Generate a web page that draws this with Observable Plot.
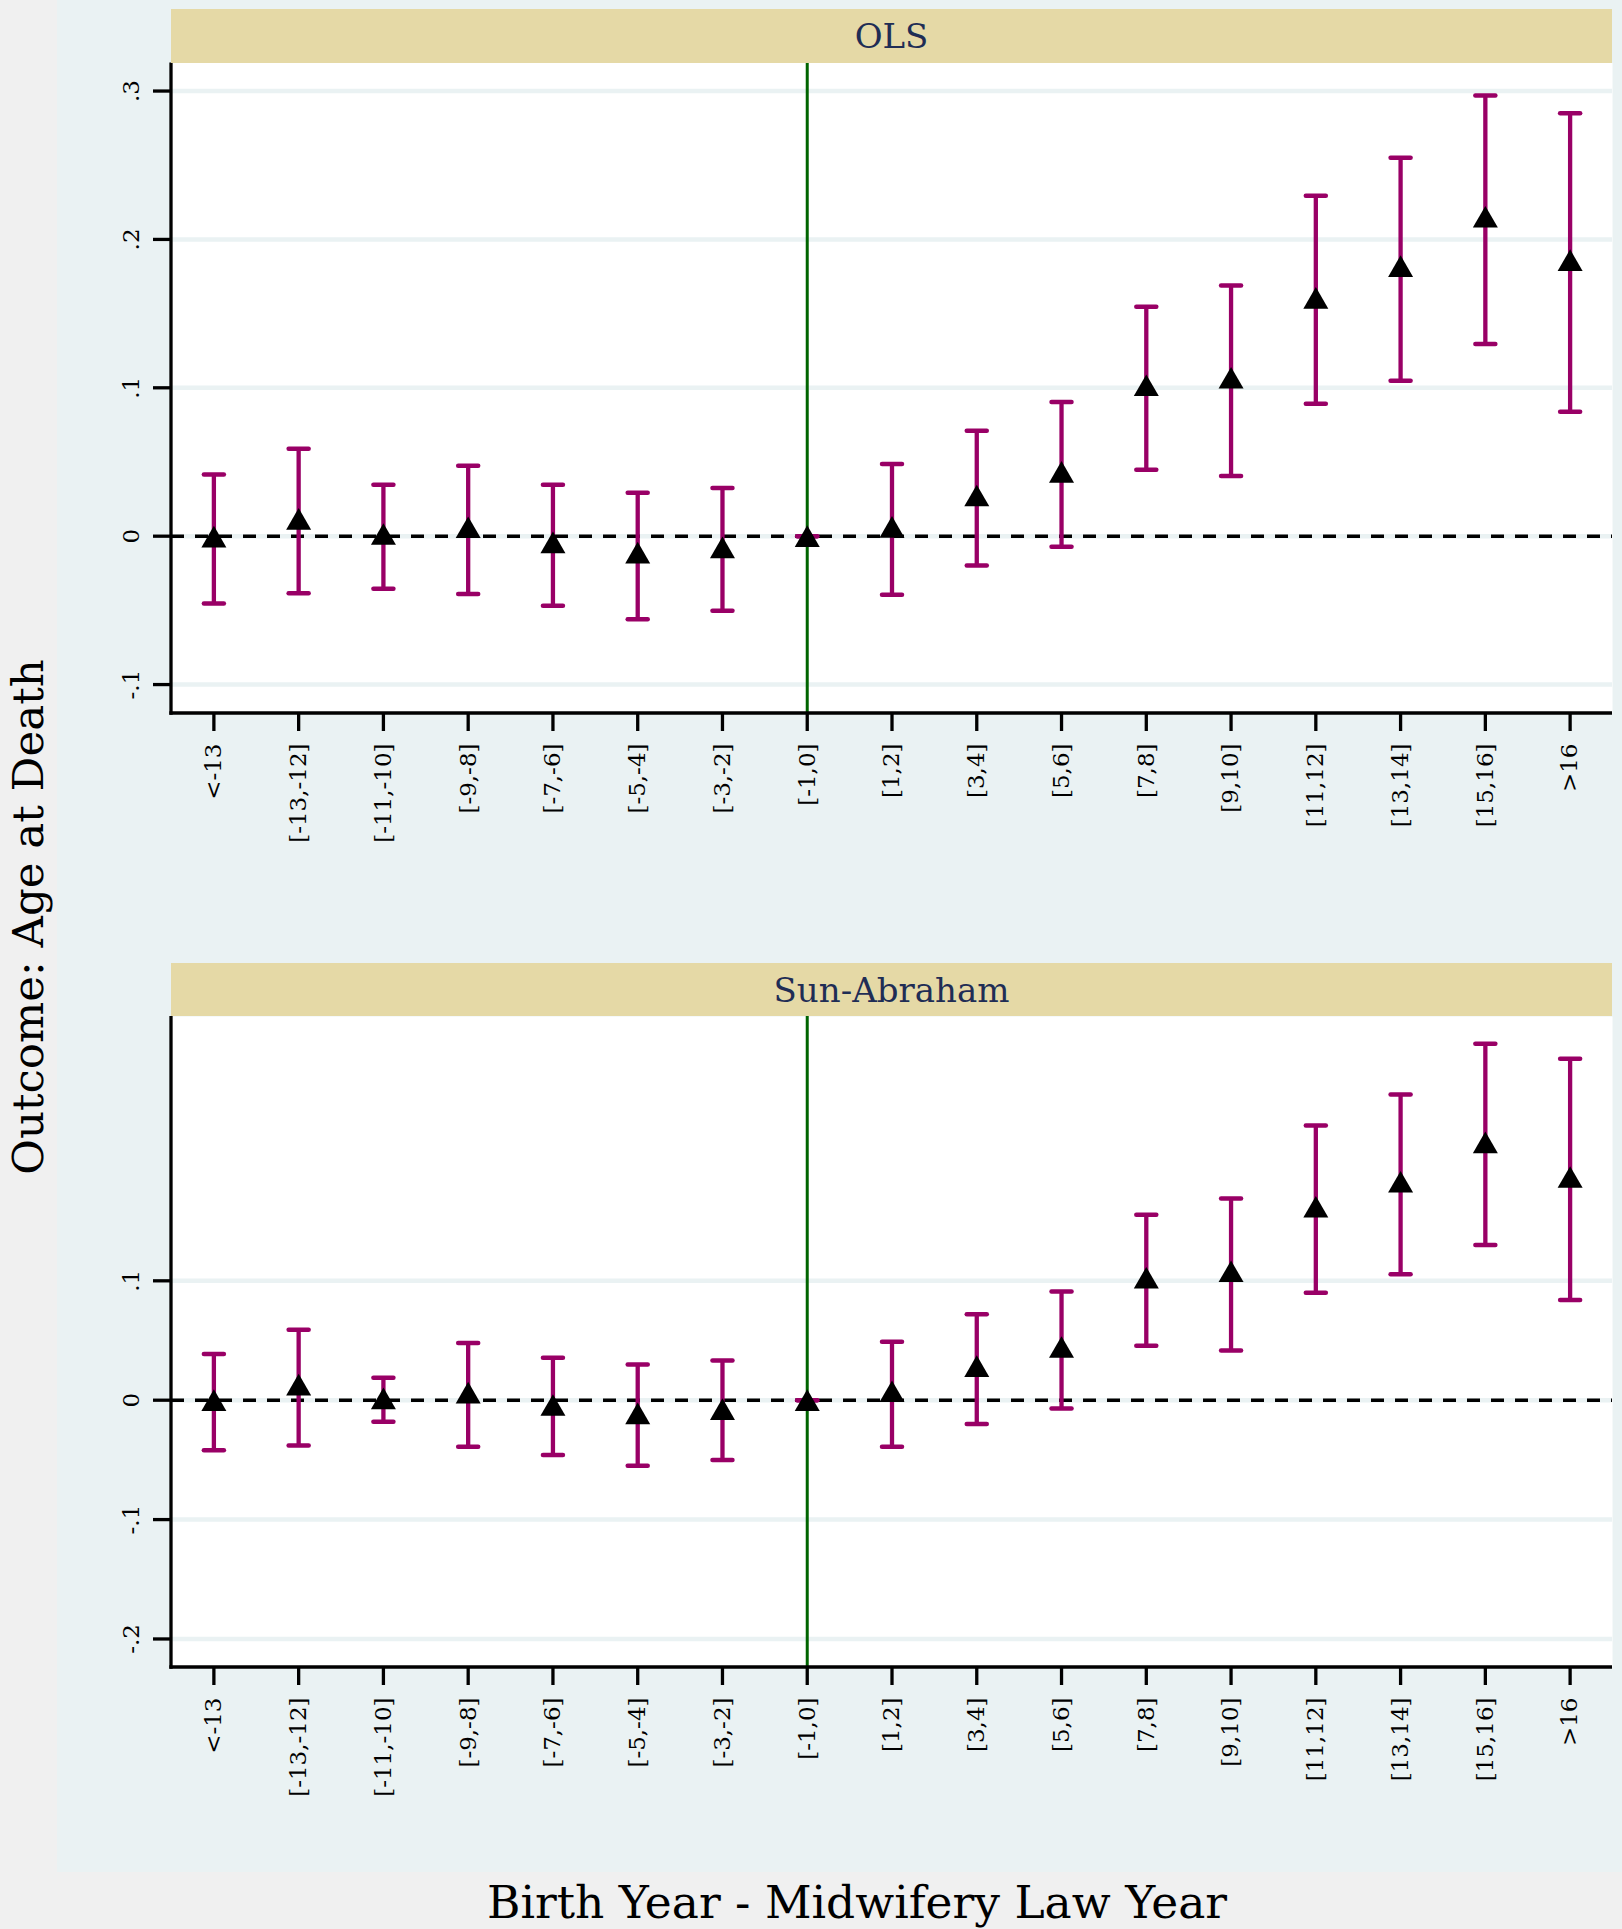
<!DOCTYPE html>
<html>
<head>
<meta charset="utf-8">
<script src="https://cdn.jsdelivr.net/npm/d3@7"></script>
<script src="https://cdn.jsdelivr.net/npm/@observablehq/plot@0.6"></script>
<style>
  html, body { margin: 0; padding: 0; background: #f0f0f0; }
  #page { position: relative; width: 1622px; height: 1929px; overflow: hidden; background: #f0f0f0; font-family: "DejaVu Serif", serif; }
  #inner { position: absolute; left: 57px; top: 0; width: 1565px; height: 1872px; background: #eaf2f3; }
  .panel { position: absolute; left: 0; }
  .panel svg { overflow: visible; }
  .strip { position: absolute; background: #e5d9a6; color: #1f2d55; display: flex; align-items: center; justify-content: center; font-size: 34px; font-family: "DejaVu Serif", serif; }
  #titles { position: absolute; left: 0; top: 0; pointer-events: none; }
</style>
</head>
<body>
<div id="page">
  <div id="inner"></div>
  <div id="p1" class="panel"></div>
  <div id="p2" class="panel"></div>
  <div id="s1" class="strip">OLS</div>
  <div id="s2" class="strip">Sun-Abraham</div>
  <svg id="titles" width="1622" height="1929" font-family="DejaVu Serif, serif">
    <text id="ytitle" transform="translate(43,917) rotate(-90)" text-anchor="middle" font-size="43.5" fill="black">Outcome: Age at Death</text>
    <text id="xtitle" x="857" y="1918" text-anchor="middle" font-size="45.5" fill="black">Birth Year - Midwifery Law Year</text>
  </svg>
</div>
<script>
// ---------------- data ----------------
const categories = ["<-13","[-13,-12]","[-11,-10]","[-9,-8]","[-7,-6]","[-5,-4]","[-3,-2]","[-1,0]","[1,2]","[3,4]","[5,6]","[7,8]","[9,10]","[11,12]","[13,14]","[15,16]",">16"];
const refCategory = "[-1,0]";

const olsEst = [-0.0003, 0.0117, 0.0015, 0.0060, -0.0042, -0.0111, -0.0075, 0, 0.0063, 0.0274, 0.0433, 0.1017, 0.1068, 0.1606, 0.1820, 0.2153, 0.1860];
const olsLo  = [-0.0454, -0.0385, -0.0355, -0.0390, -0.0469, -0.0559, -0.0502, 0, -0.0394, -0.0198, -0.0072, 0.0448, 0.0406, 0.0893, 0.1047, 0.1296, 0.0839];
const olsHi  = [0.0415, 0.0590, 0.0346, 0.0475, 0.0346, 0.0292, 0.0325, 0, 0.0487, 0.0710, 0.0905, 0.1546, 0.1690, 0.2295, 0.2550, 0.2970, 0.2851];

const saEst = [0.0000, 0.0131, 0.0015, 0.0064, -0.0040, -0.0110, -0.0075, 0, 0.0075, 0.0285, 0.0446, 0.1026, 0.1080, 0.1620, 0.1830, 0.2160, 0.1870];
const saLo  = [-0.0420, -0.0380, -0.0180, -0.0390, -0.0460, -0.0550, -0.0500, 0, -0.0390, -0.0200, -0.0070, 0.0457, 0.0416, 0.0900, 0.1056, 0.1300, 0.0840];
const saHi  = [0.0386, 0.0590, 0.0187, 0.0480, 0.0356, 0.0300, 0.0333, 0, 0.0490, 0.0720, 0.0910, 0.1554, 0.1690, 0.2300, 0.2560, 0.2985, 0.2860];

const olsTicks = [-0.1, 0, 0.1, 0.2, 0.3];
const olsTickLabels = ["-.1", "0", ".1", ".2", ".3"];
const saTicks = [-0.2, -0.1, 0, 0.1];
const saTickLabels = ["-.2", "-.1", "0", ".1"];

const olsDomain = [-0.1195, 0.3189];
const saDomain = [-0.2239, 0.3214];

// ---------------- styles ----------------
const W = 1622;
const ML = 171, MR = 10;
const barColor = "#990066";
const gridColor = "#eaf2f3";
const refColor = "#006400";

// triangle centred on its bounding box
const triangleSymbol = {
  draw(ctx, size) {
    const r = Math.sqrt(size / Math.PI);
    const h = r * Math.sqrt(3);
    ctx.moveTo(0, -h / 2);
    ctx.lineTo(r, h / 2);
    ctx.lineTo(-r, h / 2);
    ctx.closePath();
  }
};
const capSymbol = {
  draw(ctx, size) {
    const r = Math.sqrt(size / Math.PI);
    ctx.moveTo(-r, 0);
    ctx.lineTo(r, 0);
  }
};

// left and bottom axis lines, drawn from the frame dimensions
function axisLines(...args) {
  const dim = args.find(a => a && typeof a === "object" && "marginLeft" in a && "width" in a);
  const g = d3.create("svg:g");
  const x0 = dim.marginLeft, x1 = dim.width - dim.marginRight;
  const y0 = dim.marginTop, y1 = dim.height - dim.marginBottom;
  g.append("line").attr("x1", x0).attr("x2", x0).attr("y1", y0).attr("y2", y1 + 1.65)
    .attr("stroke", "black").attr("stroke-width", 3.3);
  g.append("line").attr("x1", x0 - 1.65).attr("x2", x1).attr("y1", y1).attr("y2", y1)
    .attr("stroke", "black").attr("stroke-width", 3.3);
  return g.node();
}

function panel(el, est, lo, hi, ticks, tickLabels, domain, top, height, mTop, mBottom) {
  const rows = categories.map((c, i) => ({cat: c, est: est[i], lo: lo[i], hi: hi[i]}));
  const tickRows = ticks.map((t, i) => ({v: t, label: tickLabels[i]}));
  const chart = Plot.plot({
    width: W,
    height,
    marginLeft: ML,
    marginRight: MR,
    marginTop: mTop,
    marginBottom: mBottom,
    style: {background: "transparent", fontFamily: "DejaVu Serif, serif", fontSize: "23px", overflow: "visible"},
    x: {type: "point", domain: categories, padding: 0.5, round: false, axis: null},
    y: {domain, axis: null},
    marks: [
      Plot.frame({fill: "white", stroke: "none"}),
      Plot.ruleY(ticks, {stroke: gridColor, strokeWidth: 4.5}),
      Plot.axisY({ticks, tickSize: 18, tickFormat: () => "", stroke: "black", strokeWidth: 3.3, label: null}),
      Plot.axisX({tickSize: 18, tickFormat: () => "", stroke: "black", strokeWidth: 3.3, label: null}),
      Plot.text(tickRows, {y: "v", text: "label", frameAnchor: "left", dx: -33, rotate: -90, textAnchor: "middle", lineAnchor: "bottom", fill: "black", fontSize: 23}),
      Plot.text(categories, {x: d => d, text: d => d, frameAnchor: "bottom", dy: 30, rotate: -90, textAnchor: "end", lineAnchor: "middle", fill: "black", fontSize: 23}),
      Plot.ruleY([0], {stroke: "black", strokeWidth: 3.5, strokeDasharray: "13,11"}),
      Plot.ruleX([refCategory], {stroke: refColor, strokeWidth: 3}),
      axisLines,
      Plot.ruleX(rows, {x: "cat", y1: "lo", y2: "hi", stroke: barColor, strokeWidth: 4.3}),
      Plot.dot(rows, {x: "cat", y: "lo", symbol: capSymbol, r: 10, stroke: barColor, strokeWidth: 4.5, strokeLinecap: "round"}),
      Plot.dot(rows, {x: "cat", y: "hi", symbol: capSymbol, r: 10, stroke: barColor, strokeWidth: 4.5, strokeLinecap: "round"}),
      Plot.dot(rows, {x: "cat", y: "est", symbol: triangleSymbol, r: 12.5, fill: "black", stroke: "none"})
    ]
  });
  el.style.top = top + "px";
  el.appendChild(chart);
}

// panel 1: frame from y=62.5 to 713
panel(document.getElementById("p1"), olsEst, olsLo, olsHi, olsTicks, olsTickLabels, olsDomain, 0, 900, 62.5, 187);
// panel 2: frame from y=1016 to 1667
panel(document.getElementById("p2"), saEst, saLo, saHi, saTicks, saTickLabels, saDomain, 880, 900, 136, 113);

function strip(id, top, h) {
  const s = document.getElementById(id);
  s.style.left = ML + "px";
  s.style.width = (W - ML - MR) + "px";
  s.style.top = top + "px";
  s.style.height = h + "px";
}
strip("s1", 9, 53.5);
strip("s2", 963, 53);
</script>
</body>
</html>
